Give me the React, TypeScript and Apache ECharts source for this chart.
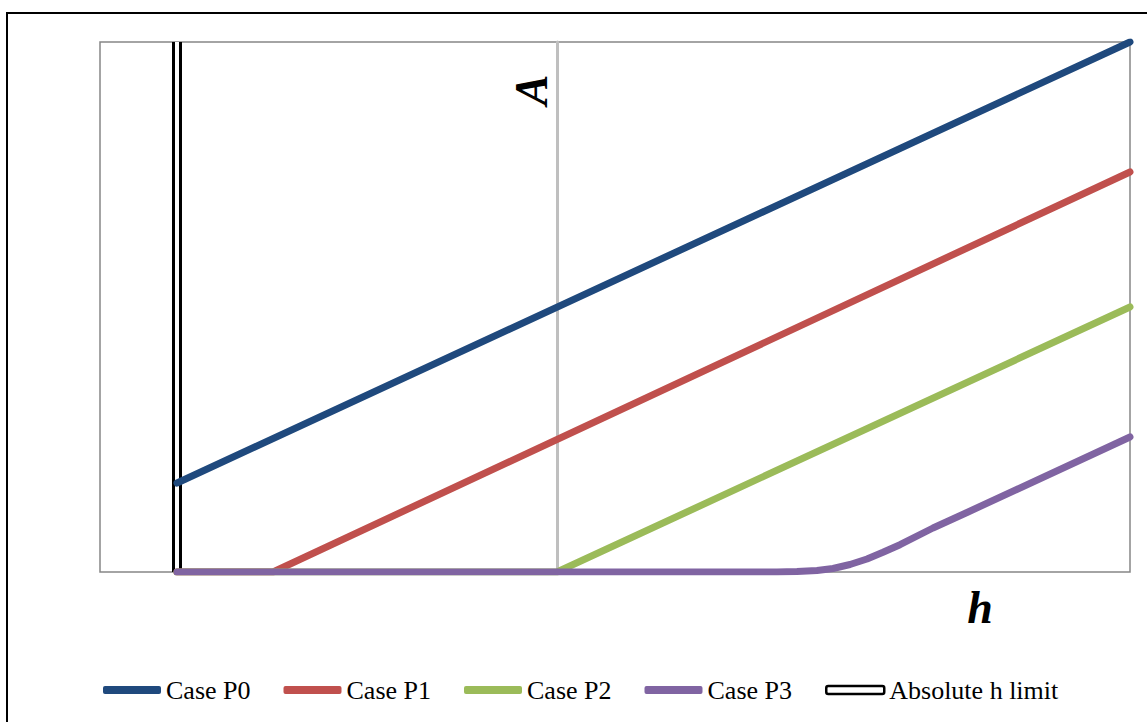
import React, { useEffect, useRef } from "react";
import * as echarts from "echarts";

const seriesNames = ["Case P0", "Case P1", "Case P2", "Case P3"];
const limitName = "Absolute h limit";
const colors = ["#1F497D", "#C0504D", "#9BBB59", "#8064A2"];

const limitX = -3.8;
const limitLine: [number, number][] = [
  [limitX, 0],
  [limitX, 5.3],
];
const p0: [number, number][] = [
  [-3.8, 0.89],
  [5.73, 5.3],
];
const p1: [number, number][] = [
  [-3.8, 0],
  [-2.84, 0],
  [5.73, 4.0],
];
const p2: [number, number][] = [
  [-3.8, 0],
  [0, 0],
  [5.73, 2.65],
];
const p3: [number, number][] = [
  [-3.8, 0],
  [2.2, 0],
  [2.4, 0.004],
  [2.6, 0.015],
  [2.76, 0.035],
  [2.93, 0.075],
  [3.1, 0.13],
  [3.26, 0.197],
  [3.43, 0.273],
  [3.76, 0.44],
  [4.1, 0.595],
  [5.73, 1.35],
];
const caseData = [p0, p1, p2, p3];

const xMin = -4.57;
const xMax = 5.73;
const yMin = 0;
const yMax = 5.3;

export default function App() {
  const ref = useRef<HTMLDivElement>(null);
  useEffect(() => {
    if (!ref.current) return;
    const chart = echarts.init(ref.current, null, { renderer: "svg" });
    const font = "'Liberation Serif', 'Times New Roman', serif";
    chart.setOption({
      animation: false,
      backgroundColor: "#ffffff",
      grid: {
        left: 100,
        top: 42,
        right: 17,
        bottom: 150,
        show: true,
        borderColor: "#868686",
        borderWidth: 1.5,
        containLabel: false,
      },
      xAxis: {
        type: "value",
        min: xMin,
        max: xMax,
        axisLine: { show: false },
        axisTick: { show: false },
        axisLabel: { show: false },
        splitLine: { show: false },
      },
      yAxis: {
        type: "value",
        min: yMin,
        max: yMax,
        axisLine: { show: true, onZero: true, lineStyle: { color: "#BFBFBF", width: 3 } },
        axisTick: { show: false },
        axisLabel: { show: false },
        splitLine: { show: false },
      },
      legend: {
        left: 98,
        top: 672,
        itemWidth: 58,
        itemHeight: 8,
        itemGap: 33,
        icon: "roundRect",
        textStyle: { fontFamily: font, fontSize: 26, color: "#000" },
        data: [
          ...seriesNames.map((n, i) => ({ name: n, icon: "roundRect", itemStyle: { color: colors[i], borderWidth: 0 } })),
          { name: limitName, icon: "roundRect", itemStyle: { color: "#ffffff", borderColor: "#000000", borderWidth: 2.5 } },
        ],
      },
      graphic: [
        {
          type: "rect",
          shape: { x: 7, y: 13, width: 1400, height: 1000 },
          style: { fill: "none", stroke: "#000", lineWidth: 2 },
          silent: true,
          z: -10,
        },
        {
          type: "text",
          x: 531,
          y: 90,
          rotation: Math.PI / 2,
          style: {
            text: "A",
            font: "italic bold 46px 'Liberation Serif', serif",
            fill: "#000",
            align: "center",
            verticalAlign: "middle",
          },
        },
        {
          type: "text",
          x: 980,
          y: 607,
          style: {
            text: "h",
            font: "italic bold 46px 'Liberation Serif', serif",
            fill: "#000",
            align: "center",
            verticalAlign: "middle",
          },
        },
      ],
      series: [
        {
          name: limitName,
          type: "line",
          data: limitLine,
          symbol: "none",
          lineStyle: { color: "#000000", width: 10 },
          itemStyle: { color: "#000000" },
          z: 1,
        },
        {
          name: "limit-inner",
          type: "line",
          data: limitLine,
          symbol: "none",
          lineStyle: { color: "#ffffff", width: 4 },
          itemStyle: { color: "#ffffff" },
          z: 2,
        },
        ...seriesNames.map((n, i) => ({
          name: n,
          type: "line",
          data: caseData[i],
          symbol: "none",
          smooth: false,
          lineStyle: { color: colors[i], width: 7, cap: "round", join: "round" },
          itemStyle: { color: colors[i] },
          z: 3 + i,
        })),
      ],
    });
    return () => chart.dispose();
  }, []);
  return (
    <div
      ref={ref}
      style={{ position: "fixed", left: 0, top: 0, width: 1147, height: 722, background: "#fff" }}
    />
  );
}
